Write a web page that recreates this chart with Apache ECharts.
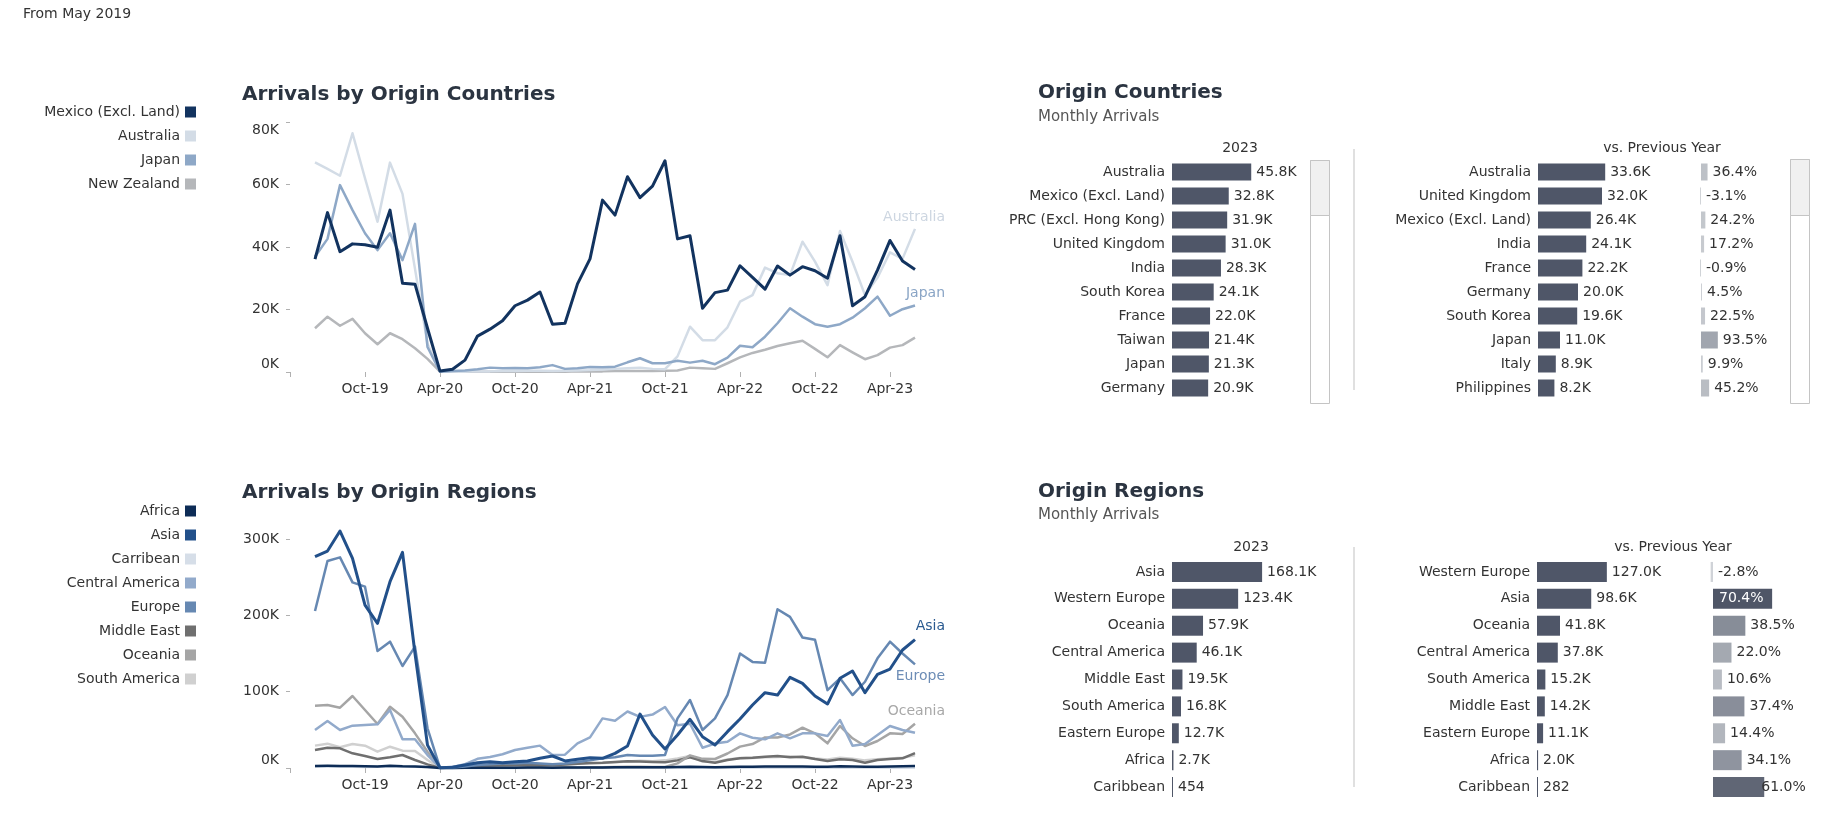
<!DOCTYPE html>
<html><head><meta charset="utf-8">
<script src="https://cdn.jsdelivr.net/npm/echarts@6/dist/echarts.min.js"></script>
<style>html,body{margin:0;padding:0;background:#fff;}#c{width:1825px;height:827px;}</style>
</head><body><div id="c"></div>
<script>
// ---------- DATA (monthly arrivals, thousands) ----------
// month index 0 = Apr-19 (axis origin); first data point = Jun-19 (index 2) ... last = Jun-23 (index 50)
const FIRST_MONTH = 2;
const xTickMonths = [6, 12, 18, 24, 30, 36, 42, 48];
const xTickLabels = ['Oct-19', 'Apr-20', 'Oct-20', 'Apr-21', 'Oct-21', 'Apr-22', 'Oct-22', 'Apr-23'];

const countryNames = ['Mexico (Excl. Land)', 'Australia', 'Japan', 'New Zealand'];
const mexico = [36.1, 51.0, 38.5, 41.0, 40.7, 39.9, 51.8, 28.4, 28.1, 14.0, 0.3,
  0.9, 3.8, 11.5, 13.7, 16.4, 21.2, 23.0, 25.6, 15.3, 15.6, 28.2, 36.2,
  55.0, 50.2, 62.5, 55.8, 59.5, 67.6, 42.6, 43.6, 20.4, 25.4, 26.2, 34.0,
  30.3, 26.5, 33.9, 31.0, 33.7, 32.4, 30.0, 43.6, 21.2, 24.1, 32.6, 42.1, 35.5, 32.8];
const australia = [67.1, 65.0, 62.8, 76.4, 62.0, 48.1, 67.0, 57.0, 33.0, 9.0, 0.1,
  0.1, 0.1, 0.2, 0.2, 0.3, 0.3, 0.4, 0.4, 0.3, 0.4, 0.5, 0.6,
  0.8, 1.0, 1.2, 1.4, 1.0, 0.9, 5.0, 14.5, 10.2, 10.2, 14.3, 22.5,
  24.6, 33.4, 31.6, 31.0, 41.7, 35.3, 27.8, 45.1, 35.3, 24.6, 30.2, 38.3, 36.2, 45.8];
const japan = [36.9, 42.6, 59.8, 51.8, 44.4, 39.0, 44.4, 35.8, 47.4, 8.0, 0.1,
  0.3, 0.5, 0.9, 1.4, 1.2, 1.3, 1.2, 1.5, 2.2, 1.0, 1.2, 1.6,
  1.5, 1.7, 3.1, 4.4, 2.8, 2.8, 3.6, 3.0, 3.6, 2.5, 4.6, 8.4,
  7.9, 11.3, 15.6, 20.4, 17.7, 15.3, 14.5, 15.3, 17.4, 20.4, 24.1, 18.0, 20.1, 21.3];
const newZealand = [14.0, 17.7, 14.8, 17.0, 12.4, 8.9, 12.4, 10.5, 7.6, 4.2, 0.1,
  0.1, 0.1, 0.1, 0.1, 0.1, 0.1, 0.1, 0.1, 0.1, 0.1, 0.2, 0.2,
  0.2, 0.3, 0.3, 0.3, 0.3, 0.4, 0.5, 1.4, 1.2, 1.0, 2.8, 4.7,
  6.1, 7.1, 8.3, 9.2, 10.0, 7.4, 4.7, 8.6, 6.3, 4.1, 5.4, 7.8, 8.6, 11.0];

const regionNames = ['Africa', 'Asia', 'Carribean', 'Central America', 'Europe', 'Middle East', 'Oceania', 'South America'];
const africa = [2.6, 2.8, 2.7, 2.5, 2.2, 2.0, 2.9, 2.3, 2.1, 1.2, 0.1,
  0.1, 0.2, 0.3, 0.3, 0.4, 0.4, 0.5, 0.5, 0.4, 0.5, 0.6, 0.7,
  0.8, 0.9, 1.0, 1.0, 1.0, 1.1, 1.3, 1.6, 1.2, 1.1, 1.4, 1.6,
  1.8, 1.9, 2.1, 2.0, 1.9, 1.8, 1.7, 2.2, 1.9, 1.5, 1.8, 2.0, 2.3, 2.7];
const asia = [276.9, 284.3, 310.5, 274.7, 213.5, 189.5, 244.1, 282.5, 150.0, 30.0, 0.3,
  0.9, 3.9, 7.0, 8.3, 7.0, 8.3, 9.2, 12.7, 15.7, 9.2, 11.4, 13.5,
  12.7, 19.2, 28.8, 70.7, 43.2, 24.9, 43.2, 63.8, 41.0, 30.1, 47.6, 64.2,
  82.5, 98.7, 95.6, 118.8, 110.9, 94.3, 83.8, 117.5, 127.1, 98.7, 122.7, 129.7, 154.6, 168.1];
const caribbean = [1.8, 2.0, 1.7, 1.5, 1.4, 1.5, 1.8, 1.6, 1.7, 0.9, 0.05,
  0.05, 0.05, 0.1, 0.1, 0.1, 0.1, 0.1, 0.1, 0.1, 0.1, 0.1, 0.2,
  0.2, 0.2, 0.2, 0.2, 0.2, 0.2, 0.3, 0.3, 0.3, 0.3, 0.3, 0.3,
  0.3, 0.3, 0.4, 0.4, 0.3, 0.3, 0.3, 0.4, 0.3, 0.3, 0.3, 0.4, 0.4, 0.45];
const centralAmerica = [49.8, 61.6, 49.8, 55.5, 56.3, 57.2, 76.0, 37.6, 37.6, 17.0, 0.4,
  1.5, 5.0, 12.0, 14.5, 18.0, 23.6, 26.6, 29.3, 17.0, 17.5, 32.3, 40.2,
  65.0, 62.0, 74.0, 67.0, 70.0, 80.0, 56.0, 58.0, 26.6, 32.0, 34.5, 45.4,
  39.7, 37.6, 45.4, 38.9, 45.4, 45.4, 41.9, 62.9, 29.3, 31.4, 43.2, 55.0, 49.8, 46.1];
const europe = [205.7, 271.2, 276.0, 243.2, 237.6, 153.3, 165.5, 133.6, 159.0, 52.0, 0.3,
  0.5, 2.0, 4.0, 5.0, 6.0, 6.0, 7.0, 6.0, 5.0, 6.0, 8.0, 10.0,
  12.7, 14.0, 17.0, 16.0, 16.0, 17.0, 65.0, 89.0, 49.8, 65.0, 95.6, 150.0,
  139.0, 138.0, 208.0, 198.0, 171.0, 168.0, 102.0, 117.5, 95.6, 113.0, 143.7, 165.5, 150.0, 135.8];
const middleEast = [23.6, 26.6, 25.8, 19.2, 15.7, 11.8, 14.0, 17.0, 10.5, 4.8, 0.2,
  0.8, 1.5, 2.5, 3.0, 3.5, 4.0, 4.5, 4.0, 3.5, 4.5, 5.5, 6.5,
  7.0, 8.0, 9.0, 8.5, 8.0, 7.5, 10.0, 14.0, 9.2, 7.0, 10.5, 12.7,
  13.5, 14.8, 15.7, 14.0, 14.8, 11.8, 9.2, 11.4, 10.5, 7.0, 10.5, 11.8, 12.7, 19.5];
const oceania = [81.7, 82.5, 79.0, 94.3, 76.0, 57.6, 80.3, 67.2, 45.4, 21.4, 0.2,
  0.3, 0.3, 0.4, 0.4, 0.5, 0.5, 0.6, 0.6, 0.5, 0.6, 0.8, 0.9,
  1.1, 1.4, 1.6, 1.8, 1.4, 1.4, 6.0, 16.5, 12.0, 11.8, 19.0, 28.0,
  31.4, 40.0, 40.0, 44.0, 52.8, 45.4, 32.3, 55.0, 38.9, 28.8, 35.4, 45.4, 44.5, 57.9];
const southAmerica = [29.3, 31.9, 27.1, 31.4, 29.3, 21.4, 27.9, 22.7, 22.3, 10.5, 0.3,
  0.5, 1.0, 2.0, 2.5, 3.0, 3.5, 4.0, 4.5, 4.0, 4.5, 5.5, 6.0,
  6.5, 7.5, 8.5, 9.5, 9.0, 10.0, 12.5, 15.7, 8.5, 8.0, 11.0, 13.0,
  13.0, 14.0, 14.5, 15.0, 14.0, 12.5, 11.0, 13.5, 12.0, 10.0, 11.5, 12.5, 13.5, 16.8];

const topCountries = ['Australia', 'Mexico (Excl. Land)', 'PRC (Excl. Hong Kong)', 'United Kingdom', 'India', 'South Korea', 'France', 'Taiwan', 'Japan', 'Germany'];
const topCountries2023 = [45.8, 32.8, 31.9, 31.0, 28.3, 24.1, 22.0, 21.4, 21.3, 20.9];
const prevCountries = ['Australia', 'United Kingdom', 'Mexico (Excl. Land)', 'India', 'France', 'Germany', 'South Korea', 'Japan', 'Italy', 'Philippines'];
const prevCountriesValues = [33.6, 32.0, 26.4, 24.1, 22.2, 20.0, 19.6, 11.0, 8.9, 8.2];
const prevCountriesPct = [36.4, -3.1, 24.2, 17.2, -0.9, 4.5, 22.5, 93.5, 9.9, 45.2];

const topRegions = ['Asia', 'Western Europe', 'Oceania', 'Central America', 'Middle East', 'South America', 'Eastern Europe', 'Africa', 'Caribbean'];
const topRegions2023 = [168.1, 123.4, 57.9, 46.1, 19.5, 16.8, 12.7, 2.7, 0.454];
const prevRegions = ['Western Europe', 'Asia', 'Oceania', 'Central America', 'South America', 'Middle East', 'Eastern Europe', 'Africa', 'Caribbean'];
const prevRegionsValues = [127.0, 98.6, 41.8, 37.8, 15.2, 14.2, 11.1, 2.0, 0.282];
const prevRegionsPct = [-2.8, 70.4, 38.5, 22.0, 10.6, 37.4, 14.4, 34.1, 61.0];

// ---------- STYLE ----------
const FONT = '"DejaVu Sans", Verdana, sans-serif';
const TXT = '#333333';
const countryColors = ['#12335f', '#d3dce6', '#8ea8c7', '#b5b7ba'];
const regionColors = ['#0d2c56', '#22508a', '#d6dee8', '#92aacb', '#6688b2', '#6f6f6f', '#a5a5a5', '#d0d0d0'];
const BAR = '#4f5668';

const chart = echarts.init(document.getElementById('c'), null, {renderer: 'canvas'});

function pts(arr) { return arr.map((v, i) => [FIRST_MONTH + i, v]); }
function fmtK(v) { return v >= 1 ? v.toFixed(1) + 'K' : String(Math.round(v * 1000)); }
function fmtPct(v) { return v.toFixed(1) + '%'; }

function lineX(gridIndex) {
  return {
    type: 'value', gridIndex, min: 0, max: 50,
    axisLine: {show: false}, splitLine: {show: false},
    axisTick: {show: true, length: 5, lineStyle: {color: '#b0b0b0'}, customValues: [0].concat(xTickMonths)},
    axisLabel: {
      color: TXT, fontFamily: FONT, fontSize: 14, margin: 10,
      customValues: xTickMonths,
      formatter: v => xTickLabels[xTickMonths.indexOf(v)] || ''
    }
  };
}
function lineY(gridIndex, max, ticks, shiftMax) {
  const base = {fontFamily: FONT, fontSize: 14, color: TXT};
  return {
    type: 'value', gridIndex, min: 0, max, offset: 6,
    axisLine: {show: false}, splitLine: {show: false},
    axisTick: {show: true, length: 4, lineStyle: {color: '#b0b0b0'}, customValues: ticks},
    axisLabel: {color: TXT, fontFamily: FONT, fontSize: 14, margin: 5, customValues: ticks,
      formatter: v => v === 0 ? '{lo|0K}' : (shiftMax && v === max ? '{hi|' + v + 'K}' : v + 'K'),
      rich: {
        lo: Object.assign({padding: [0, 0, 16, 0]}, base),
        hi: Object.assign({padding: [16, 0, 0, 0]}, base)
      }}
  };
}
function lineSeries(name, arr, color, gi, width, z, endLabel) {
  const s = {
    type: 'line', name, data: pts(arr), xAxisIndex: gi, yAxisIndex: gi,
    showSymbol: false, symbol: 'none', clip: false, z,
    lineStyle: {color, width, join: 'round'}, itemStyle: {color},
    emphasis: {disabled: true}
  };
  if (endLabel) {
    s.endLabel = {show: true, formatter: name, color: endLabel.color, fontFamily: FONT, fontSize: 14,
      align: 'right', distance: 5, offset: [25, endLabel.dy]};
  }
  return s;
}
function catY(gridIndex, data, show) {
  return {
    type: 'category', gridIndex, data, inverse: true,
    axisLine: {show: false}, axisTick: {show: false}, splitLine: {show: false},
    axisLabel: {show, color: TXT, fontFamily: FONT, fontSize: 14, margin: 7}
  };
}
function valX(gridIndex, min, max) {
  return {type: 'value', gridIndex, min, max, show: false, splitLine: {show: false}};
}
function barSeries(data, gi, barWidth, fmt) {
  return {
    type: 'bar', data, xAxisIndex: gi, yAxisIndex: gi, barWidth, barMinHeight: 1,
    itemStyle: {color: BAR}, emphasis: {disabled: true},
    label: {show: true, position: 'right', distance: 5, color: TXT, fontFamily: FONT, fontSize: 14, formatter: p => fmt(p.value)}
  };
}
function pctSeries(arr, gi, barWidth, labelInsideMax) {
  const maxV = Math.max.apply(null, arr);
  return {
    type: 'bar', xAxisIndex: gi, yAxisIndex: gi, barWidth, barMinHeight: 1, emphasis: {disabled: true},
    data: arr.map(v => {
      if (labelInsideMax && v === maxV) return {value: v, label: {position: 'insideLeft', distance: 6, color: '#ffffff'}};
      if (labelInsideMax && v >= 55) return {value: v, label: {offset: [-8, 0]}};
      return v;
    }),
    label: {show: true, position: 'right', distance: 5, color: TXT, fontFamily: FONT, fontSize: 14, formatter: p => fmtPct(p.value)}
  };
}

const grids = [
  {left: 290, top: 122, width: 625, height: 250},          // 0 countries line
  {left: 290, top: 531.4, width: 625, height: 236.6},      // 1 regions line
  {left: 1172, top: 160, width: 173, height: 240},         // 2 countries 2023
  {left: 1538, top: 160, width: 200, height: 240},         // 3 countries prev
  {left: 1699.2, top: 160, width: 91.8, height: 240},      // 4 countries pct
  {left: 1172, top: 558.5, width: 160.8, height: 242},     // 5 regions 2023
  {left: 1537, top: 558.5, width: 165, height: 242},       // 6 regions prev
  {left: 1704.6, top: 558.5, width: 92.4, height: 242}     // 7 regions pct
];

const countrySeries = [
  lineSeries(countryNames[0], mexico, countryColors[0], 0, 3, 6),
  lineSeries(countryNames[1], australia, countryColors[1], 0, 2.5, 3, {color: '#cdd6e1', dy: -12}),
  lineSeries(countryNames[2], japan, countryColors[2], 0, 2.5, 4, {color: '#8aa5c6', dy: -12}),
  lineSeries(countryNames[3], newZealand, countryColors[3], 0, 2.5, 2)
];
const regionArrays = [africa, asia, caribbean, centralAmerica, europe, middleEast, oceania, southAmerica];
const regionZ = [5, 7, 2, 4, 6, 3, 3, 2];
const regionEnd = {1: {color: '#2a5a90', dy: -13}, 4: {color: '#6d8db6', dy: 12}, 6: {color: '#a8a8a8', dy: -12}};
const regionSeries = regionArrays.map((arr, i) =>
  lineSeries(regionNames[i], arr, regionColors[i], 1, i === 1 ? 3 : 2.5, regionZ[i], regionEnd[i]));

function legend(names, top) {
  return {
    data: names, orient: 'vertical', align: 'right', right: 1825 - 196, top, padding: 0,
    itemWidth: 11, itemHeight: 11, itemGap: 8, icon: 'rect', selectedMode: false,
    textStyle: {color: TXT, fontFamily: FONT, fontSize: 14, lineHeight: 16}
  };
}

function txt(x, y, text, font, fill, align) {
  return {type: 'text', x, y, silent: true,
    style: {text, font, fill, align: align || 'left', verticalAlign: 'middle'}};
}
const TITLE_FONT = 'bold 20px ' + FONT;
const HEAD_FONT = '14px ' + FONT;
const SUB_FONT = '15px ' + FONT;
const TITLE_C = '#2b3441';

const graphic = [
  txt(23, 14, 'From May 2019', '14px ' + FONT, TXT),
  txt(242, 95, 'Arrivals by Origin Countries', TITLE_FONT, TITLE_C),
  txt(242, 493, 'Arrivals by Origin Regions', TITLE_FONT, TITLE_C),
  txt(1038, 93, 'Origin Countries', TITLE_FONT, TITLE_C),
  txt(1038, 117, 'Monthly Arrivals', SUB_FONT, '#555555'),
  txt(1038, 492, 'Origin Regions', TITLE_FONT, TITLE_C),
  txt(1038, 515, 'Monthly Arrivals', SUB_FONT, '#555555'),
  txt(1240, 148, '2023', HEAD_FONT, TXT, 'center'),
  txt(1662, 148, 'vs. Previous Year', HEAD_FONT, TXT, 'center'),
  txt(1251, 547, '2023', HEAD_FONT, TXT, 'center'),
  txt(1673, 547, 'vs. Previous Year', HEAD_FONT, TXT, 'center'),
  {type: 'line', silent: true, shape: {x1: 1354, y1: 149, x2: 1354, y2: 390}, style: {stroke: '#d6d6d6', lineWidth: 1.5}},
  {type: 'line', silent: true, shape: {x1: 1354, y1: 547, x2: 1354, y2: 787}, style: {stroke: '#d6d6d6', lineWidth: 1.5}},
  {type: 'rect', silent: true, shape: {x: 1310.5, y: 160.5, width: 19, height: 243}, style: {fill: '#ffffff', stroke: '#c4c4c4', lineWidth: 1}},
  {type: 'rect', silent: true, shape: {x: 1310.5, y: 160.5, width: 19, height: 55}, style: {fill: '#f0f0f0', stroke: '#c4c4c4', lineWidth: 1}},
  {type: 'rect', silent: true, shape: {x: 1790.5, y: 159.5, width: 19, height: 244}, style: {fill: '#ffffff', stroke: '#c4c4c4', lineWidth: 1}},
  {type: 'rect', silent: true, shape: {x: 1790.5, y: 159.5, width: 19, height: 56}, style: {fill: '#f0f0f0', stroke: '#c4c4c4', lineWidth: 1}}
];

const series = countrySeries.concat(regionSeries);
const barStart = series.length;
series.push(
  barSeries(topCountries2023, 2, 17, fmtK),
  barSeries(prevCountriesValues, 3, 17, fmtK),
  pctSeries(prevCountriesPct, 4, 17, false),
  barSeries(topRegions2023, 5, 20, fmtK),
  barSeries(prevRegionsValues, 6, 20, fmtK),
  pctSeries(prevRegionsPct, 7, 20, true)
);

const option = {
  animation: false,
  backgroundColor: '#ffffff',
  textStyle: {fontFamily: FONT},
  grid: grids,
  legend: [legend(countryNames, 104), legend(regionNames, 503)],
  visualMap: [
    {type: 'continuous', show: false, seriesIndex: barStart + 2, dimension: 0, min: -10, max: 260, inRange: {color: ['#d4d7db', '#4f5667']}},
    {type: 'continuous', show: false, seriesIndex: barStart + 5, dimension: 0, min: -5, max: 70.4, inRange: {color: ['#d4d7db', '#4f5667']}}
  ],
  xAxis: [lineX(0), lineX(1), valX(2, 0, 100), valX(3, 0, 100), valX(4, -10, 500), valX(5, 0, 300), valX(6, 0, 300), valX(7, -10, 100)],
  yAxis: [lineY(0, 80, [0, 20, 40, 60, 80], true), lineY(1, 310, [0, 100, 200, 300], false),
    catY(2, topCountries, true), catY(3, prevCountries, true), catY(4, prevCountries, false),
    catY(5, topRegions, true), catY(6, prevRegions, true), catY(7, prevRegions, false)],
  series,
  graphic
};
chart.setOption(option);
</script></body></html>
